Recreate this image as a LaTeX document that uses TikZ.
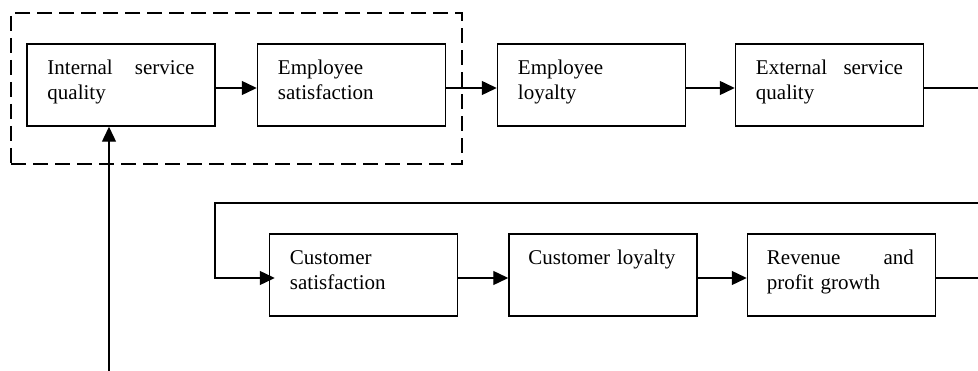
\documentclass[tikz,border=0pt]{standalone}
\usepackage{fontspec}
\setmainfont{Liberation Serif}
\usetikzlibrary{arrows.meta}
\begin{document}
\begin{tikzpicture}[x=1pt,y=-1pt,
  box/.style={draw, line width=1.5pt, minimum width=188pt, minimum height=82pt, inner sep=0pt},
  lbl/.style={anchor=base west, inner sep=0pt, text width=147pt, align=left,
              font=\fontsize{21}{25}\selectfont},
  wire/.style={line width=1.4pt},
  flow/.style={wire, -{Triangle[length=15pt,width=14pt]}},
  group/.style={draw, line width=1.4pt, dash pattern=on 15pt off 7pt, minimum width=451pt, minimum height=151pt, inner sep=0pt}]
\useasboundingbox (0,0) rectangle (978,371);

% dashed frame around the internal part of the chain
\node[group] (grp) at (236.5,88.5) {};

% boxes, top row
\node[box] (b1) at (121,85) {};
\node[box] (b2) at (351.5,85) {};
\node[box] (b3) at (591.5,85) {};
\node[box] (b4) at (829.5,85) {};
% boxes, bottom row
\node[box] (b5) at (363.5,275) {};
\node[box] (b6) at (603,275) {};
\node[box] (b7) at (841.5,275) {};

% labels, set from the top left of each box
\node[lbl] (t1) at ([xshift=21pt,yshift=-31pt]b1.north west) {Internal\hfill service\\quality};
\node[lbl] (t2) at ([xshift=21pt,yshift=-31pt]b2.north west) {Employee\\satisfaction};
\node[lbl] (t3) at ([xshift=21pt,yshift=-31pt]b3.north west) {Employee\\loyalty};
\node[lbl] (t4) at ([xshift=21pt,yshift=-31pt]b4.north west) {External\hfill service\\quality};
\node[lbl] (t5) at ([xshift=21pt,yshift=-31pt]b5.north west) {Customer\\satisfaction};
\node[lbl] (t6) at ([xshift=20pt,yshift=-31pt]b6.north west) {Customer loyalty};
\node[lbl] (t7) at ([xshift=20pt,yshift=-31pt]b7.north west) {Revenue\hfill and\\profit growth};

% free ends of the wrap-around line
\coordinate (e1) at (978,88);
\coordinate (e2) at (978,203);
\coordinate (r1) at (215,203);
\coordinate (e3) at (978,278);
\coordinate (s)  at (109,371);

% top row connectors
\draw[flow] ([yshift=-3pt]b1.east) -- ([yshift=-3pt]b2.west);
\draw[flow] ([yshift=-3pt]b2.east) -- ([yshift=-3pt]b3.west);
\draw[flow] ([yshift=-3pt]b3.east) -- ([yshift=-3pt]b4.west);
\draw[wire] ([yshift=-3pt]b4.east) -- (e1);

% return line into the bottom row
\draw[flow, shorten >=-6pt] (e2) -- (r1) |- ([yshift=-3pt]b5.west);

% bottom row connectors
\draw[flow] ([yshift=-3pt]b5.east) -- ([yshift=-3pt]b6.west);
\draw[flow] ([yshift=-3pt]b6.east) -- ([yshift=-3pt]b7.west);
\draw[wire] ([yshift=-3pt]b7.east) -- (e3);

% feedback arrow from below into the first box
\draw[flow] (s) -- (s |- b1.south);
\end{tikzpicture}
\end{document}
